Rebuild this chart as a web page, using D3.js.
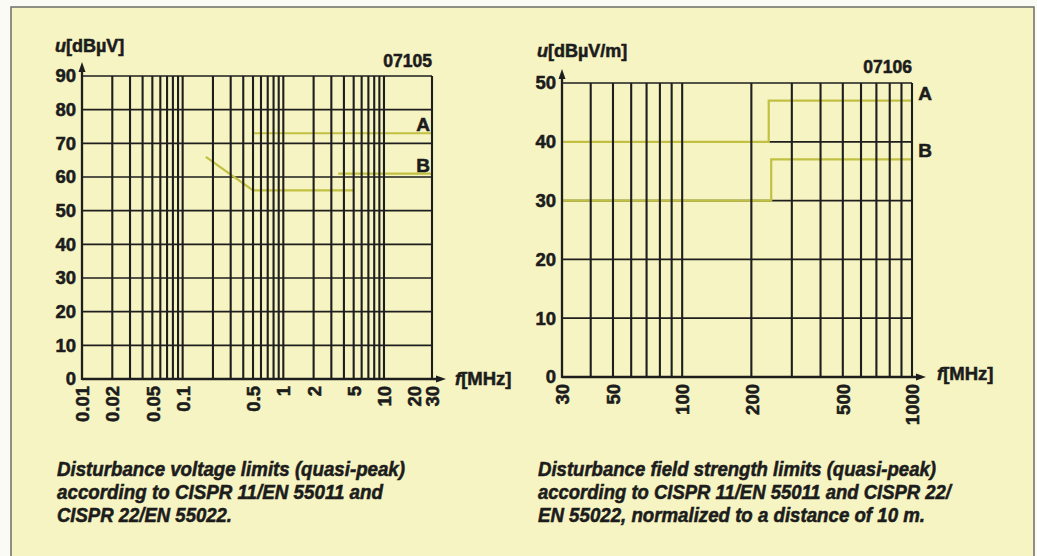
<!DOCTYPE html>
<html>
<head>
<meta charset="utf-8">
<script src="https://cdn.jsdelivr.net/npm/d3@7"></script>
<style>
  html, body { margin: 0; padding: 0; background: #fbfbf6; }
  svg { display: block; }
  text { font-family: "Liberation Sans", Arial, sans-serif; font-weight: bold; fill: #1c1c1c;
         stroke: #1c1c1c; stroke-width: 0.55px; }
</style>
</head>
<body>
<svg id="chart" width="1037" height="556"></svg>
<script>
// ---------- DATA ----------
// Left chart: disturbance voltage (dBµV) vs f (MHz)
const leftYTicks = [0, 10, 20, 30, 40, 50, 60, 70, 80, 90];
const leftXLabels = [0.01, 0.02, 0.05, 0.1, 0.5, 1, 2, 5, 10, 20, 30];
const leftXLabelText = ["0.01", "0.02", "0.05", "0.1", "0.5", "1", "2", "5", "10", "20", "30"];
const leftGridX = [0.02, 0.03, 0.04, 0.05, 0.06, 0.07, 0.08, 0.09, 0.1,
                   0.2, 0.3, 0.4, 0.5, 0.6, 0.7, 0.8, 0.9, 1,
                   2, 3, 4, 5, 6, 7, 8, 9, 10, 30];
const leftLimitA = [[0.5, 73], [30, 73]];
const leftLimitB1 = [[0.17, 66], [0.5, 56], [5, 56]];
const leftLimitB2 = [[3.5, 61], [30, 61]];

// Right chart: disturbance field strength (dBµV/m) vs f (MHz)
const rightYTicks = [0, 10, 20, 30, 40, 50];
const rightXLabels = [30, 50, 100, 200, 500, 1000];
const rightGridX = [40, 50, 60, 70, 80, 90, 100, 200, 300, 400, 500, 600, 700, 800, 900, 1000];
const rightLimitA = [[30, 40], [238, 40], [238, 47], [1000, 47]];
const rightLimitB = [[30, 30], [244, 30], [244, 37], [1000, 37]];

const captionLeft = ["Disturbance voltage limits (quasi-peak)",
                     "according to CISPR 11/EN 55011 and",
                     "CISPR 22/EN 55022."];
const captionRight = ["Disturbance field strength limits (quasi-peak)",
                      "according to CISPR 11/EN 55011 and CISPR 22/",
                      "EN 55022, normalized to a distance of 10 m."];

// ---------- DRAW ----------
const svg = d3.select("#chart");
const INK = "#1e1e1e";
const LIMIT = "#c2c042";

// page panel
svg.append("rect").attr("x", 11).attr("y", 7).attr("width", 1023).attr("height", 560)
  .attr("fill", "#f6f4c2").attr("stroke", "#6d6d68").attr("stroke-width", 1.5);

function drawChart(o) {
  const g = svg.append("g");
  const x = d3.scaleLog().domain(o.xDomain).range(o.xRange);
  const y = d3.scaleLinear().domain(o.yDomain).range(o.yRange);
  const [x0, x1] = o.xRange;
  const [y0, y1] = o.yRange;

  // horizontal grid
  g.append("g").selectAll("line").data(o.yTicks.filter(d => d > 0)).join("line")
    .attr("x1", x0).attr("x2", x1)
    .attr("y1", d => y(d)).attr("y2", d => y(d))
    .attr("stroke", INK).attr("stroke-width", 1.7);

  // limit lines
  const line = d3.line().x(d => x(d[0])).y(d => y(d[1]));
  o.limits.forEach(l => {
    g.append("path").attr("d", line(l)).attr("fill", "none")
      .attr("stroke", LIMIT).attr("stroke-width", 2.2);
  });

  // vertical grid
  g.append("g").selectAll("line").data(o.gridX).join("line")
    .attr("x1", d => x(d)).attr("x2", d => x(d))
    .attr("y1", y0).attr("y2", y1)
    .attr("stroke", INK).attr("stroke-width", 2.1);

  // y axis with arrow
  g.append("line").attr("x1", x0).attr("x2", x0).attr("y1", y0 + 1).attr("y2", y1 - 8)
    .attr("stroke", INK).attr("stroke-width", 2.3);
  g.append("path")
    .attr("d", `M${x0},${y1 - 14} L${x0 - 3.5},${y1 - 4} L${x0 + 3.5},${y1 - 4} Z`)
    .attr("fill", INK);
  // x axis with arrow
  g.append("line").attr("x1", x0).attr("x2", x1 + 8).attr("y1", y0).attr("y2", y0)
    .attr("stroke", INK).attr("stroke-width", 2.3);
  g.append("path")
    .attr("d", `M${x1 + 14},${y0} L${x1 + 4},${y0 - 3.5} L${x1 + 4},${y0 + 3.5} Z`)
    .attr("fill", INK);

  // y tick labels via axis
  const ya = g.append("g").attr("transform", `translate(${x0 - 5},0)`)
    .call(d3.axisLeft(y).tickValues(o.yTicks).tickSize(0).tickPadding(1));
  ya.select(".domain").remove();
  ya.selectAll("text").attr("font-size", 18.5).attr("fill", INK)
    .attr("font-family", "'Liberation Sans', Arial, sans-serif").attr("font-weight", "bold");

  // x tick labels via axis, rotated
  const xa = g.append("g").attr("transform", `translate(0,${y0})`)
    .call(d3.axisBottom(x).tickValues(o.xLabels).tickSize(0)
      .tickFormat((d, i) => o.xLabelText[i]));
  xa.select(".domain").remove();
  xa.selectAll("text")
    .attr("font-size", 18.5).attr("fill", INK)
    .attr("font-family", "'Liberation Sans', Arial, sans-serif").attr("font-weight", "bold")
    .attr("transform", "rotate(-90)")
    .attr("text-anchor", "end")
    .attr("x", -7).attr("y", 0).attr("dy", "0.36em");

  // unit labels
  const u = g.append("text").attr("x", o.uPos[0]).attr("y", o.uPos[1]).attr("font-size", 18);
  u.append("tspan").attr("font-style", "italic").text("u");
  u.append("tspan").text(o.uUnit);
  const f = g.append("text").attr("x", o.fPos[0]).attr("y", o.fPos[1]).attr("font-size", 18.5);
  f.append("tspan").attr("font-style", "italic").text("f");
  f.append("tspan").text("[MHz]");

  // figure number
  g.append("text").attr("x", x1).attr("y", o.numY).attr("text-anchor", "end")
    .attr("font-size", 17.5).text(o.num);

  // series labels
  g.append("text").attr("x", o.labA[0]).attr("y", o.labA[1]).attr("font-size", 19)
    .attr("text-anchor", "middle").attr("dy", "0.35em").text("A");
  g.append("text").attr("x", o.labB[0]).attr("y", o.labB[1]).attr("font-size", 19)
    .attr("text-anchor", "middle").attr("dy", "0.35em").text("B");

  // caption
  o.caption.forEach((t, i) => {
    g.append("text").attr("x", o.capX).attr("y", 476 + i * 23)
      .attr("font-size", 19.5).attr("font-style", "italic")
      .attr("textLength", o.capW[i]).attr("lengthAdjust", "spacingAndGlyphs")
      .text(t);
  });
}

drawChart({
  xDomain: [0.01, 30], xRange: [82, 432],
  yDomain: [0, 90], yRange: [379, 76],
  yTicks: leftYTicks, xLabels: leftXLabels, xLabelText: leftXLabelText,
  gridX: leftGridX,
  limits: [leftLimitA, leftLimitB1, leftLimitB2],
  uPos: [55, 52], uUnit: "[dBµV]",
  fPos: [455, 385],
  num: "07105", numY: 67,
  labA: [423, 124], labB: [423, 165],
  caption: captionLeft, capX: 57, capW: [348, 326, 175]
});

drawChart({
  xDomain: [30, 1000], xRange: [562, 912],
  yDomain: [0, 50], yRange: [377, 83],
  yTicks: rightYTicks, xLabels: rightXLabels, xLabelText: rightXLabels.map(String),
  gridX: rightGridX,
  limits: [rightLimitA, rightLimitB],
  uPos: [537, 57], uUnit: "[dBµV/m]",
  fPos: [937, 380],
  num: "07106", numY: 73,
  labA: [925, 93], labB: [925, 150],
  caption: captionRight, capX: 538, capW: [398, 413, 387]
});
</script>
</body>
</html>
